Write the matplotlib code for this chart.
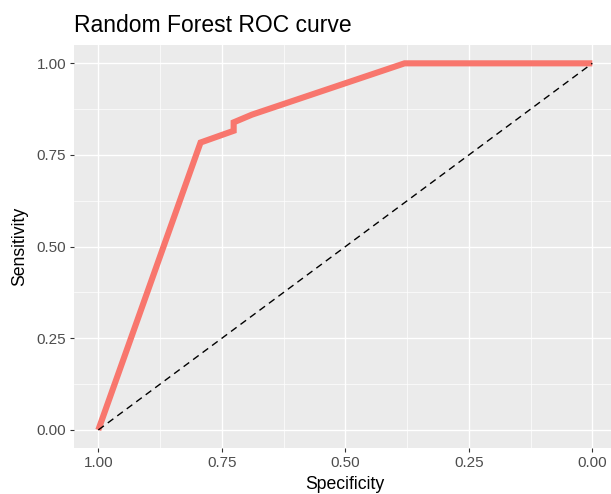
import matplotlib
matplotlib.use("Agg")
import matplotlib.pyplot as plt
from matplotlib.ticker import FixedLocator

plt.rcParams['font.family'] = ['Liberation Sans', 'DejaVu Sans']

specificity = [1.0, 0.793, 0.726, 0.726, 0.689, 0.380, 0.0]
sensitivity = [0.0, 0.784, 0.816, 0.839, 0.860, 1.0, 1.0]
diag_x = [1.0, 0.0]
diag_y = [0.0, 1.0]
major_ticks = [1.00, 0.75, 0.50, 0.25, 0.00]
major_labels = ["1.00", "0.75", "0.50", "0.25", "0.00"]
minor_ticks = [0.875, 0.625, 0.375, 0.125]
title = "Random Forest ROC curve"
xlabel = "Specificity"
ylabel = "Sensitivity"

W, H = 611, 494
fig = plt.figure(figsize=(W / 100, H / 100), dpi=100)
left, right, top, bottom = 73.6, 617.0, 45.0, 448.3
ax = fig.add_axes([left / W, 1 - bottom / H, (right - left) / W, (bottom - top) / H])
ax.set_facecolor('#EBEBEB')
for s in ax.spines.values():
    s.set_visible(False)

ax.set_xlim(1.05, -0.05)
ax.set_ylim(-0.05, 1.05)

ax.xaxis.set_major_locator(FixedLocator(major_ticks))
ax.yaxis.set_major_locator(FixedLocator(major_ticks))
ax.set_xticklabels(major_labels)
ax.set_yticklabels(major_labels[::-1] if False else major_labels)
ax.xaxis.set_minor_locator(FixedLocator(minor_ticks))
ax.yaxis.set_minor_locator(FixedLocator(minor_ticks))

ax.grid(which='major', color='white', linewidth=1.0)
ax.grid(which='minor', color='white', linewidth=0.5)
ax.set_axisbelow(True)

ax.tick_params(which='major', length=3.2, width=0.8, color='#333333',
               labelsize=11, labelcolor='#4D4D4D')
ax.tick_params(axis='x', which='major', pad=2.5)
ax.tick_params(axis='y', which='major', pad=2.2)
ax.tick_params(which='minor', length=0)

ax.plot(specificity, sensitivity, color='#F8766D', linewidth=4.4,
        solid_capstyle='butt', solid_joinstyle='miter', zorder=3)
ax.plot(diag_x, diag_y, color='black', linewidth=1.0,
        linestyle=(0, (5, 3.5)), zorder=4)

fig.text(74 / W, 1 - 32.3 / H, title, fontsize=16.5, color='black',
         ha='left', va='baseline')
fig.text((left + right) / 2 / W, 1 - 489 / H, xlabel, fontsize=12.7,
         color='black', ha='center', va='baseline')
fig.text(19.5 / W, 1 - ((top + bottom) / 2) / H, ylabel, fontsize=12.7,
         color='black', ha='center', va='center', rotation=90)

fig.savefig('out.png', dpi=100)
